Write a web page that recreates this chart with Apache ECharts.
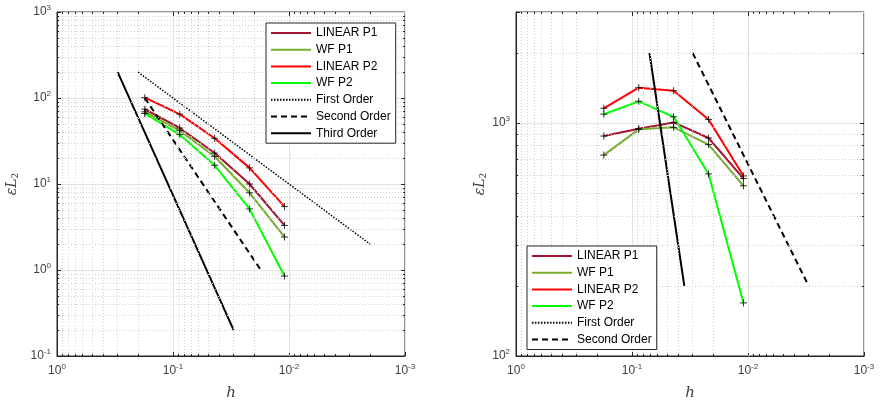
<!DOCTYPE html>
<html>
<head>
<meta charset="utf-8">
<script src="https://cdn.jsdelivr.net/npm/echarts@6/dist/echarts.min.js"></script>
<style>html,body{margin:0;padding:0;background:#fff}#c{width:881px;height:406px}</style>
</head>
<body>
<div id="c"></div>
<script>
// ---- data ----
const h = [0.175, 0.0875, 0.04375, 0.021875, 0.0109375];
const seriesNames = ['LINEAR P1', 'WF P1', 'LINEAR P2', 'WF P2'];
// left panel
const linP1L = [74, 44.8, 22.9, 10.0, 3.3];
const wfP1L  = [69, 41.7, 20.9, 7.9, 2.42];
const linP2L = [101, 65, 34, 15.4, 5.46];
const wfP2L  = [66, 37.5, 16.5, 5.13, 0.85];
const firstOrderLh = [0.2, 0.002];   const firstOrderLy = [200, 2];
const secondOrderLh = [0.175, 0.0175]; const secondOrderLy = [100, 1];
const thirdOrderLh = [0.3, 0.03];    const thirdOrderLy = [200, 0.2];
// right panel
const linP1R = [880, 946, 1007, 863, 578];
const wfP1R  = [729, 940, 959, 809, 538];
const linP2R = [1158, 1419, 1378, 1037, 593];
const wfP2R  = [1092, 1240, 1064, 605, 169];
const firstOrderRh = [0.03, 0.003];     const firstOrderRy = [2000, 200];
const secondOrderRh = [0.0707, 0.0354]; const secondOrderRy = [2000, 200];
// axes
const xRange = [0.001, 1];
const yRangeL = [0.1, 1000];
const yRangeR = [100, 3000];
const minorMult = [2, 3, 4, 5, 6, 7, 8, 9];
const xDecades = [0.001, 0.01, 0.1];
const xMajors = [0.01, 0.1];
const yDecadesL = [0.1, 1, 10, 100];
const yMajorsL = [1, 10, 100];
const yDecadesR = [100, 1000];
const yMajorsR = [1000];

const colors = ['#A2142F', '#77AC30', '#FF0000', '#00FF00'];
const FONT = 'Liberation Sans';
const TXT = '#404040';
const PLOT_W = 348, PLOT_H = 347;

function pairs(xs, ys) { return xs.map((x, i) => [x, ys[i]]); }
function minors(decades, lo, hi) {
  const out = [];
  decades.forEach(d => minorMult.forEach(m => { const v = +(d * m).toPrecision(6); if (v > lo && v < hi) out.push(v); }));
  return out;
}
function fmt(v) {
  const l = Math.log10(v), e = Math.round(l);
  if (Math.abs(l - e) > 1e-6) return '';
  return '{b|10}{s|' + e + '}';
}
const rich = {
  b: { fontSize: 12, fontFamily: FONT, color: TXT },
  s: { fontSize: 8, fontFamily: FONT, color: TXT, padding: [0, 0, 8, 0] }
};
function xAxis(gi) {
  return {
    type: 'log', gridIndex: gi, min: xRange[0], max: xRange[1], inverse: true, logBase: 10,
    name: 'h', nameLocation: 'middle', nameGap: 30,
    nameTextStyle: { fontFamily: 'DejaVu Serif', fontStyle: 'italic', fontSize: 15, color: TXT },
    axisLine: { show: true, lineStyle: { color: '#262626', width: 1 } },
    axisTick: { show: true, inside: true, length: 4, lineStyle: { color: '#262626' } },
    axisLabel: { formatter: fmt, rich: rich, margin: 7 },
    splitLine: { show: true, lineStyle: { color: '#e3e3e3', width: 1 } }
  };
}
function yAxis(gi, r, gap) {
  return {
    type: 'log', gridIndex: gi, min: r[0], max: r[1], logBase: 10,
    name: '{e|ε}{l|L}{s|2}', nameLocation: 'middle', nameGap: gap, nameRotate: 90,
    nameTextStyle: {
      color: TXT,
      rich: {
        e: { fontFamily: 'DejaVu Serif', fontStyle: 'italic', fontSize: 14, color: TXT },
        l: { fontFamily: 'DejaVu Serif', fontStyle: 'italic', fontSize: 14, color: TXT },
        s: { fontFamily: 'DejaVu Serif', fontSize: 9, color: TXT, padding: [6, 0, 0, 0] }
      }
    },
    axisLine: { show: true, lineStyle: { color: '#262626', width: 1 } },
    axisTick: { show: true, inside: true, length: 4, lineStyle: { color: '#262626' } },
    axisLabel: { formatter: fmt, rich: rich, margin: 6 },
    splitLine: { show: true, lineStyle: { color: '#e3e3e3', width: 1 } }
  };
}
function gridLines(gi, yDec, yr) {
  const ml = [];
  minors(xDecades, xRange[0], xRange[1]).forEach(v => ml.push({ xAxis: v }));
  minors(yDec, yr[0], yr[1]).forEach(v => ml.push({ yAxis: v }));
  return {
    type: 'line', xAxisIndex: gi, yAxisIndex: gi, data: [], silent: true, z: 0,
    markLine: {
      silent: true, symbol: ['none', 'none'], label: { show: false }, animation: false,
      lineStyle: { color: '#cfcfcf', type: [1, 2], width: 1 },
      emphasis: { disabled: true },
      data: ml
    }
  };
}
// short tick marks (minor on all sides, major on top/right) drawn through the axes' scales
function tickMarks(gi, yDec, yMaj, yr) {
  const xDec = Math.log10(xRange[1] / xRange[0]), yDecs = Math.log10(yr[1] / yr[0]);
  const fy = px => Math.pow(10, px * yDecs / PLOT_H);
  const fx = px => Math.pow(10, px * xDec / PLOT_W);
  const seg = [];
  const addX = (v, len, both) => {
    seg.push([{ coord: [v, yr[0]] }, { coord: [v, yr[0] * fy(len)] }]);
    seg.push([{ coord: [v, yr[1]] }, { coord: [v, yr[1] / fy(len)] }]);
  };
  const addY = (v, len) => {
    seg.push([{ coord: [xRange[1], v] }, { coord: [xRange[1] / fx(len), v] }]);
    seg.push([{ coord: [xRange[0], v] }, { coord: [xRange[0] * fx(len), v] }]);
  };
  minors(xDecades, xRange[0], xRange[1]).forEach(v => addX(v, 2));
  minors(yDec, yr[0], yr[1]).forEach(v => addY(v, 2));
  xMajors.forEach(v => seg.push([{ coord: [v, yr[1]] }, { coord: [v, yr[1] / fy(4)] }]));
  yMaj.forEach(v => seg.push([{ coord: [xRange[0], v] }, { coord: [xRange[0] * fx(4), v] }]));
  return {
    type: 'line', xAxisIndex: gi, yAxisIndex: gi, data: [], silent: true, z: 6,
    markLine: {
      silent: true, symbol: ['none', 'none'], label: { show: false }, animation: false,
      lineStyle: { color: '#262626', type: 'solid', width: 1 },
      emphasis: { disabled: true },
      data: seg
    }
  };
}
function dataLine(gi, name, ys, color) {
  return {
    type: 'line', name: name, xAxisIndex: gi, yAxisIndex: gi, data: pairs(h, ys),
    symbol: 'none', lineStyle: { color: color, width: 2 }, itemStyle: { color: color },
    z: 3, animation: false
  };
}
function marks(gi, ys) {
  return {
    type: 'scatter', name: '_m', xAxisIndex: gi, yAxisIndex: gi, data: pairs(h, ys),
    symbol: 'path://M0,5L10,5M5,0L5,10', symbolSize: 7,
    itemStyle: { color: 'none', borderColor: '#000', borderWidth: 1 },
    z: 5, animation: false, silent: true
  };
}
function refLine(gi, name, xs, ys, type, width) {
  return {
    type: 'line', name: name, xAxisIndex: gi, yAxisIndex: gi, data: pairs(xs, ys),
    symbol: 'none', lineStyle: { color: '#000', width: width, type: type },
    itemStyle: { color: '#000' }, z: 3, animation: false
  };
}
function legend(gi, names, left, top) {
  return {
    data: names.map(n => ({ name: n })), orient: 'vertical', left: left, top: top,
    itemWidth: 40, itemHeight: 14, itemGap: 2.7,
    padding: [3, 5, 3, 4], borderColor: '#262626', borderWidth: 1, backgroundColor: '#fff',
    itemStyle: { opacity: 0 },
    textStyle: { fontFamily: FONT, fontSize: 12, color: '#000', lineHeight: 14 },
    selectedMode: false, z: 10
  };
}

const leftY = [linP1L, wfP1L, linP2L, wfP2L];
const rightY = [linP1R, wfP1R, linP2R, wfP2R];
const series = [gridLines(0, yDecadesL, yRangeL), gridLines(1, yDecadesR, yRangeR),
                tickMarks(0, yDecadesL, yMajorsL, yRangeL), tickMarks(1, yDecadesR, yMajorsR, yRangeR)];
seriesNames.forEach((n, i) => series.push(dataLine(0, n, leftY[i], colors[i])));
series.push(refLine(0, 'First Order', firstOrderLh, firstOrderLy, [1.5, 1.5], 1.5));
series.push(refLine(0, 'Second Order', secondOrderLh, secondOrderLy, [6, 4], 2));
series.push(refLine(0, 'Third Order', thirdOrderLh, thirdOrderLy, 'solid', 2));
leftY.forEach(ys => series.push(marks(0, ys)));
seriesNames.forEach((n, i) => series.push(dataLine(1, n, rightY[i], colors[i])));
series.push(refLine(1, 'First Order', firstOrderRh, firstOrderRy, [6, 4], 2));
series.push(refLine(1, 'Second Order', secondOrderRh, secondOrderRy, 'solid', 2));
rightY.forEach(ys => series.push(marks(1, ys)));

const chart = echarts.init(document.getElementById('c'), null, { renderer: 'canvas' });
chart.setOption({
  animation: false,
  backgroundColor: '#fff',
  grid: [
    { left: 57, right: 476, top: 12, bottom: 47, show: true, borderColor: '#262626', borderWidth: 1, containLabel: false },
    { left: 516, right: 17, top: 12, bottom: 47, show: true, borderColor: '#262626', borderWidth: 1, containLabel: false }
  ],
  xAxis: [xAxis(0), xAxis(1)],
  yAxis: [yAxis(0, yRangeL, 37), yAxis(1, yRangeR, 27)],
  legend: [
    legend(0, seriesNames.concat(['First Order', 'Second Order', 'Third Order']), 266, 23),
    legend(1, seriesNames.concat(['First Order', 'Second Order']), 527, 246)
  ],
  series: series
});
</script>
</body>
</html>
